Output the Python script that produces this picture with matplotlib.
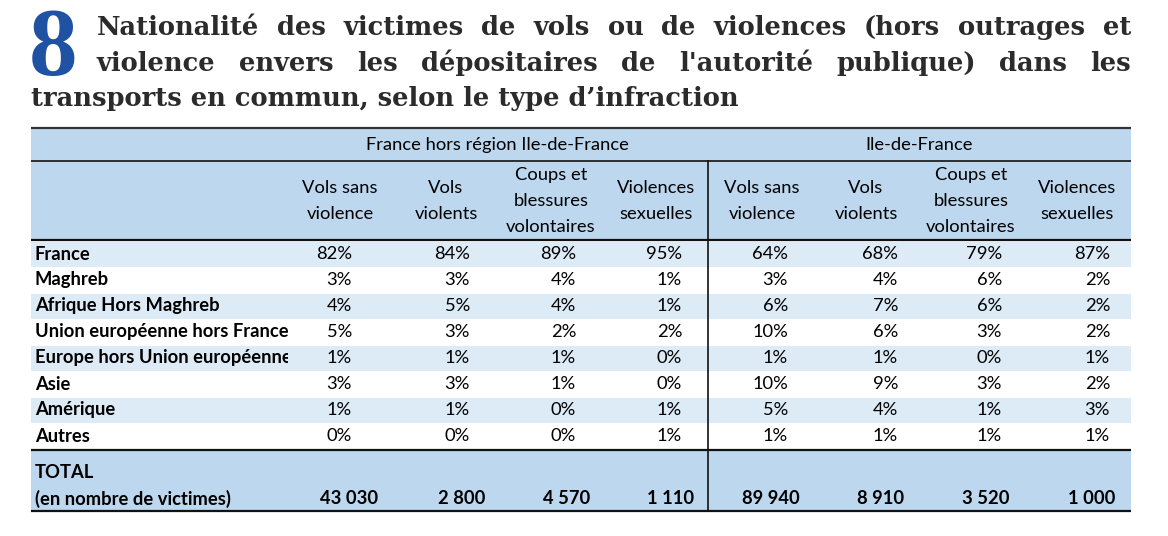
import matplotlib
matplotlib.use("Agg")
import matplotlib.pyplot as plt
from matplotlib.patches import Rectangle
from matplotlib.transforms import Bbox, TransformedBbox

# --- data ---
categories = ["France", "Maghreb", "Afrique Hors Maghreb", "Union européenne hors France",
              "Europe hors Union européenne", "Asie", "Amérique", "Autres"]
col_labels = ["Vols sans\nviolence", "Vols\nviolents", "Coups et\nblessures\nvolontaires",
              "Violences\nsexuelles"]
groups = ["France hors région Ile-de-France", "Ile-de-France"]

hors_idf_vols_sans = [82, 3, 4, 5, 1, 3, 1, 0]
hors_idf_vols_violents = [84, 3, 5, 3, 1, 3, 1, 0]
hors_idf_coups = [89, 4, 4, 2, 1, 1, 0, 0]
hors_idf_sexuelles = [95, 1, 1, 2, 0, 0, 1, 1]
idf_vols_sans = [64, 3, 6, 10, 1, 10, 5, 1]
idf_vols_violents = [68, 4, 7, 6, 1, 9, 4, 1]
idf_coups = [79, 6, 6, 3, 0, 3, 1, 1]
idf_sexuelles = [87, 2, 2, 2, 1, 2, 3, 1]

totals_hors_idf = [43030, 2800, 4570, 1110]
totals_idf = [89940, 8910, 3520, 1000]

title_lines = ["Nationalité des victimes de vols ou de violences (hors outrages et",
               "violence envers les dépositaires de l'autorité publique) dans les",
               "transports en commun, selon le type d’infraction"]

columns = [hors_idf_vols_sans, hors_idf_vols_violents, hors_idf_coups, hors_idf_sexuelles,
           idf_vols_sans, idf_vols_violents, idf_coups, idf_sexuelles]
totals = totals_hors_idf + totals_idf

# --- layout (pixels) ---
W, H = 1168, 536
fig = plt.figure(figsize=(W / 100, H / 100), dpi=100)
ax = fig.add_axes([0, 0, 1, 1])
ax.set_xlim(0, W)
ax.set_ylim(H, 0)
ax.axis("off")

body_font = "Lato"
fs = 13.2
x0, x1 = 31, 1131
pct_right = [352, 470, 576, 682, 788, 898, 1002, 1110]
tot_right = [378, 485, 590, 694, 800, 904, 1010, 1115]
head_center = [340, 446, 551, 656, 762, 866, 971, 1077]
row_top = 241
row_h = 26

hdr_blue = "#bdd7ee"
row_blue = "#ddebf7"

# fills
ax.add_patch(Rectangle((x0, 128), x1 - x0, 112, color=hdr_blue, lw=0))
for i in range(len(categories)):
    if i % 2 == 0:
        ax.add_patch(Rectangle((x0, row_top + i * row_h + 1), x1 - x0, row_h - 1,
                               color=row_blue, lw=0))
ax.add_patch(Rectangle((x0, 450), x1 - x0, 61, color=hdr_blue, lw=0))

# rules
for y, lw, c in [(128, 1.6, "#333333"), (161, 1.2, "#111111"), (240, 1.6, "#111111"),
                 (450, 1.6, "#111111"), (511, 1.6, "#111111")]:
    ax.plot([x0, x1], [y, y], color=c, lw=lw, solid_capstyle="butt")
ax.plot([708, 708], [161, 511], color="#111111", lw=1.2)

# group headers
ax.text(497, 145, groups[0], ha="center", va="center", fontsize=fs, family=body_font, color="black")
ax.text(919, 145, groups[1], ha="center", va="center", fontsize=fs, family=body_font, color="black")

# column headers
for j, xc in enumerate(head_center):
    lines = col_labels[j % 4].split("\n")
    n = len(lines)
    for k, ln in enumerate(lines):
        y = 201 + (k - (n - 1) / 2) * 26
        ax.text(xc, y, ln, ha="center", va="center", fontsize=fs, family=body_font)

# rows (first column is cut at its cell edge, as in the source)
label_clip = TransformedBbox(Bbox([[x0, 0], [288, H]]), ax.transData)
for i, cat in enumerate(categories):
    yc = row_top + i * row_h + 13
    t = ax.text(35, yc, cat, ha="left", va="center", fontsize=fs, family=body_font,
                fontweight="bold")
    t.set_clip_box(label_clip)
    t.set_clip_on(True)
    for j, col in enumerate(columns):
        ax.text(pct_right[j], yc, f"{col[i]}%", ha="right", va="center", fontsize=fs,
                family=body_font)

# total row
ax.text(35, 472, "TOTAL", ha="left", va="center", fontsize=fs, family=body_font, fontweight="bold")
ax.text(35, 499, "(en nombre de victimes)", ha="left", va="center", fontsize=fs,
        family=body_font, fontweight="bold")
for j, v in enumerate(totals):
    ax.text(tot_right[j], 499, f"{v:,}".replace(",", " "), ha="right", va="center",
            fontsize=fs, family=body_font, fontweight="bold")

# title
ax.text(29, 75, "8", ha="left", va="baseline", fontsize=70, family="Liberation Serif",
        fontweight="bold", color="#1f52a3")

fig.canvas.draw()
renderer = fig.canvas.get_renderer()
tfam = "DejaVu Serif"
tcol = "#2b2b2b"

# pick title size so the last (unjustified) line spans the same width as the reference
probe = ax.text(0, 0, title_lines[2], fontsize=20, family=tfam, fontweight="bold")
tfs = 20 * (739 - 31) / probe.get_window_extent(renderer).width
probe.remove()


def justify(line, left, right, y):
    words = line.split(" ")
    arts = [ax.text(0, y, w, ha="left", va="baseline", fontsize=tfs, family=tfam,
                    fontweight="bold", color=tcol) for w in words]
    widths = [a.get_window_extent(renderer).width for a in arts]
    gap = (right - left - sum(widths)) / (len(words) - 1)
    x = left
    for a, w in zip(arts, widths):
        a.set_x(x)
        x += w + gap


justify(title_lines[0], 97, 1131, 35)
justify(title_lines[1], 97, 1131, 71)
ax.text(31, 106, title_lines[2], ha="left", va="baseline", fontsize=tfs,
        family=tfam, fontweight="bold", color=tcol)

fig.savefig("out.png", dpi=100)
